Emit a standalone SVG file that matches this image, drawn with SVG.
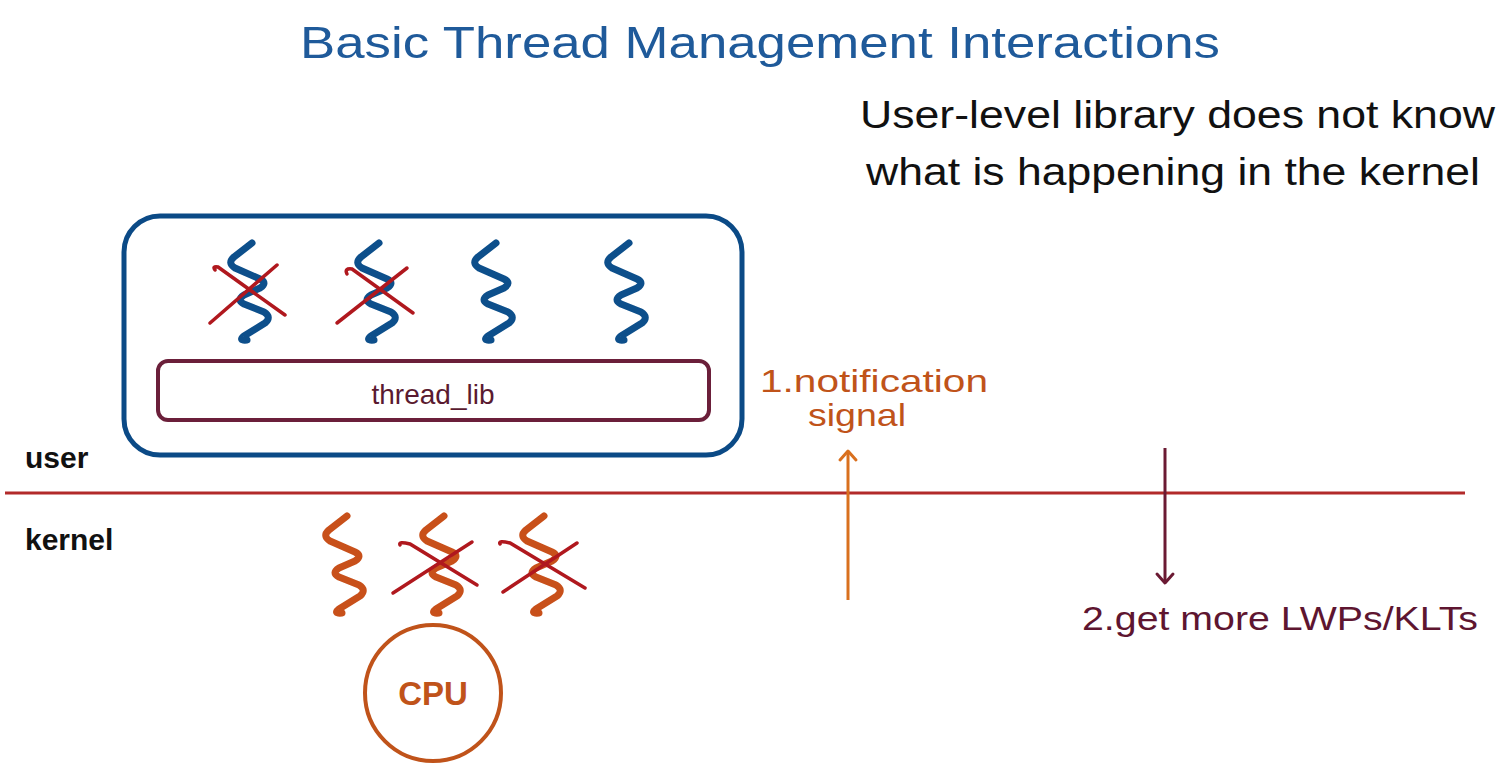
<svg xmlns="http://www.w3.org/2000/svg" width="1507" height="778" viewBox="0 0 1507 778">
<style>
.hand{font-family:"Liberation Sans","DejaVu Sans",sans-serif;}
.lbl{font-family:"Liberation Sans",Arial,sans-serif;font-weight:bold;}
.ut{fill:none;stroke:#0d4f8b;stroke-width:7;stroke-linecap:round;stroke-linejoin:round;}
.kt{fill:none;stroke:#c8501a;stroke-width:7;stroke-linecap:round;stroke-linejoin:round;}
.x{fill:none;stroke:#b0181e;stroke-width:3.5;stroke-linecap:round;}
</style>
<defs>
<path id="sq" d="M2,0 L-16,14 Q-23,20 -15,25 L10,36 Q18,40 10,45 L-6,52 Q-14,57 -6,61 L14,69 Q22,74 15,80 L-6,93 Q-12,98 -3,97"/>
</defs>
<rect width="1507" height="778" fill="#ffffff"/>

<g id="title">
<text class="hand" x="300" y="58" font-size="44" fill="#1f5a9a" textLength="920" lengthAdjust="spacingAndGlyphs">Basic  Thread  Management  Interactions</text>
</g>
<g id="note">
<text class="hand" x="860" y="128" font-size="38" fill="#111" textLength="635" lengthAdjust="spacingAndGlyphs">User-level library does not know</text>
<text class="hand" x="866" y="185" font-size="38" fill="#111" textLength="614" lengthAdjust="spacingAndGlyphs">what is happening in the kernel</text>
</g>

<g id="process">
<rect x="124" y="216" width="618" height="239" rx="36" fill="none" stroke="#0b4a86" stroke-width="5"/>
</g>
<g id="user-threads">
<use href="#sq" class="ut" x="250" y="243"/>
<use href="#sq" class="ut" x="377" y="243"/>
<use href="#sq" class="ut" x="494" y="243"/>
<use href="#sq" class="ut" x="627" y="243"/>
<path class="x" d="M215,270 Q212,266 218,267 L285,315"/>
<path class="x" d="M210,323 L277,265"/>
<path class="x" d="M347,274 Q344,268 352,269 L413,313"/>
<path class="x" d="M337,323 L407,268"/>
</g>
<g id="thread_lib">
<rect x="158" y="361" width="551" height="59" rx="10" fill="none" stroke="#6b1f3a" stroke-width="4"/>
<text x="433" y="404" font-family="Liberation Sans,Arial,sans-serif" font-size="28" fill="#5a1a30" text-anchor="middle">thread_lib</text>
</g>

<g id="boundary">
<line x1="5" y1="493" x2="1465" y2="493" stroke="#b22a2a" stroke-width="3"/>
<text class="lbl" x="25" y="468" font-size="30" fill="#111">user</text>
<text class="lbl" x="25" y="550" font-size="30" fill="#111">kernel</text>
</g>

<g id="kernel-threads">
<use href="#sq" class="kt" x="345" y="516"/>
<use href="#sq" class="kt" x="442" y="516"/>
<use href="#sq" class="kt" x="542" y="516"/>
<path class="x" d="M400,545 Q398,541 410,544 L477,585"/>
<path class="x" d="M393,593 L472,542"/>
<path class="x" d="M500,544 Q498,540 510,543 L585,588"/>
<path class="x" d="M503,592 L577,543"/>
</g>

<g id="cpu">
<circle cx="433" cy="693" r="68" fill="none" stroke="#c0531a" stroke-width="4"/>
<text class="lbl" x="433" y="705" font-size="33" fill="#c0531a" text-anchor="middle">CPU</text>
</g>

<g id="connectors">
<line x1="848" y1="600" x2="848" y2="451" stroke="#d9701e" stroke-width="3"/>
<path d="M840,460 L848,451 L856,460" fill="none" stroke="#d9701e" stroke-width="3" stroke-linecap="round" stroke-linejoin="round"/>
<line x1="1165" y1="448" x2="1165" y2="583" stroke="#6b1a33" stroke-width="3"/>
<path d="M1157,574 L1165,583 L1173,574" fill="none" stroke="#6b1a33" stroke-width="3" stroke-linecap="round" stroke-linejoin="round"/>
</g>

<g id="label-notification">
<text class="hand" x="760" y="392" font-size="32" fill="#c0531a" textLength="228" lengthAdjust="spacingAndGlyphs">1.notification</text>
<text class="hand" x="808" y="426" font-size="32" fill="#c0531a" textLength="98" lengthAdjust="spacingAndGlyphs">signal</text>
</g>
<g id="label-more">
<text class="hand" x="1082" y="630" font-size="34" fill="#5e1530" textLength="396" lengthAdjust="spacingAndGlyphs">2.get more LWPs/KLTs</text>
</g>
</svg>
